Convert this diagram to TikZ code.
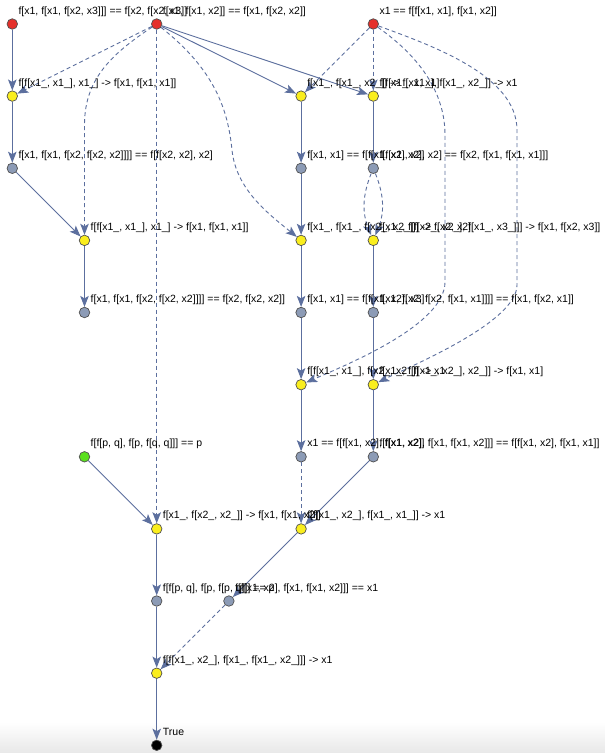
\documentclass[tikz,border=0pt]{standalone}
\usepackage{fontspec}
\setmainfont{Liberation Sans}
\usetikzlibrary{arrows.meta}
\definecolor{ecol}{HTML}{5C6F9E}
\definecolor{vline}{HTML}{505050}
\definecolor{vred}{HTML}{E5302A}
\definecolor{vyel}{HTML}{FAEE1E}
\definecolor{vgray}{HTML}{8C9BB6}
\definecolor{vgreen}{HTML}{5ADF1E}
\begin{document}
\begin{tikzpicture}[x=1pt,y=1pt,
  vtx/.style={circle,draw=vline,line width=0.7pt,inner sep=0pt,minimum size=10.5pt},
  ax/.style={vtx,fill=vred},
  lem/.style={vtx,fill=vyel},
  thm/.style={vtx,fill=vgray},
  hyp/.style={vtx,fill=vgreen},
  fin/.style={vtx,fill=black},
  lbl/.style={anchor=base west,inner sep=0pt,font=\fontsize{10.5}{12}\selectfont},
  sedge/.style={draw=ecol,line width=0.9pt,-{Stealth[length=11pt,width=8.5pt,inset=2.5pt]}},
  dedge/.style={sedge,dash pattern=on 4pt off 3pt}
]
\path[use as bounding box,fill=white] (0,0) rectangle (605,-753);
\shade[top color=white,bottom color=black!9] (0,-722) rectangle (605,-753);

% vertices
\node[ax]  (A)  at (12.3,-24) {};
\node[ax]  (B)  at (156.7,-24) {};
\node[ax]  (C)  at (373.3,-24) {};
\node[lem] (D)  at (12.3,-96.1) {};
\node[lem] (E)  at (301.1,-96.1) {};
\node[lem] (F)  at (373.3,-96.1) {};
\node[thm] (D3) at (12.3,-168.3) {};
\node[thm] (E3) at (301.1,-168.3) {};
\node[thm] (F3) at (373.3,-168.3) {};
\node[lem] (G)  at (84.5,-240.4) {};
\node[lem] (E4) at (301.1,-240.4) {};
\node[lem] (F4) at (373.3,-240.4) {};
\node[thm] (G5) at (84.5,-312.5) {};
\node[thm] (E5) at (301.1,-312.5) {};
\node[thm] (F5) at (373.3,-312.5) {};
\node[lem] (E6) at (301.1,-384.7) {};
\node[lem] (F6) at (373.3,-384.7) {};
\node[hyp] (H)  at (84.5,-456.8) {};
\node[thm] (E7) at (301.1,-456.8) {};
\node[thm] (F7) at (373.3,-456.8) {};
\node[lem] (B8) at (156.7,-528.9) {};
\node[lem] (E8) at (301.1,-528.9) {};
\node[thm] (B9) at (156.7,-601) {};
\node[thm] (D9) at (228.9,-601) {};
\node[lem] (B10) at (156.7,-673.2) {};
\node[fin] (T)  at (156.7,-745.3) {};

% edges
\draw[sedge] (A) -- (D);
\draw[dedge] (B) -- (D);
\draw[dedge] (B) .. controls (110,-55) and (84.5,-80) .. (84.5,-125) -- (G);
\draw[dedge] (B) -- (B8);
\draw[dedge] (B) .. controls (215,-70) and (228,-110) .. (232,-150) .. controls (236,-190) and (270,-215) .. (E4);
\draw[sedge] (B) -- (E);
\draw[sedge] (B) -- (F);
\draw[dedge] (C) -- (E);
\draw[dedge] (C) -- (F);
\draw[dedge] (C) .. controls (410,-50) and (445,-85) .. (445,-135) -- (445,-282) .. controls (445,-325) and (346,-365) .. (E6);
\draw[dedge] (C) .. controls (430,-45) and (517,-75) .. (517,-130) -- (517,-285) .. controls (517,-322) and (413,-365) .. (F6);
\draw[sedge] (D) -- (D3);
\draw[sedge] (D3) -- (G);
\draw[sedge] (G) -- (G5);
\draw[sedge] (E) -- (E3);
\draw[sedge] (F) -- (F3);
\draw[sedge] (E3) -- (E4);
\draw[dedge] (F3) to[bend left=22] (F4);
\draw[dedge] (F3) to[bend right=22] (F4);
\draw[sedge] (E4) -- (E5);
\draw[sedge] (F4) -- (F5);
\draw[sedge] (E5) -- (E6);
\draw[sedge] (F5) -- (F6);
\draw[sedge] (E6) -- (E7);
\draw[sedge] (F6) -- (F7);
\draw[sedge] (H) -- (B8);
\draw[dedge] (E7) -- (E8);
\draw[sedge] (F7) -- (E8);
\draw[sedge] (B8) -- (B9);
\draw[sedge] (E8) -- (D9);
\draw[sedge] (B9) -- (B10);
\draw[dedge] (D9) -- (B10);
\draw[sedge] (B10) -- (T);

% labels
\path (A) ++(6,10) node[lbl] {f[x1, f[x1, f[x2, x3]]] == f[x2, f[x2, x3]]};
\path (B) ++(6,10) node[lbl] {f[x1, f[x1, x2]] == f[x1, f[x2, x2]]};
\path (C) ++(6,10) node[lbl] {x1 == f[f[x1, x1], f[x1, x2]]};
\path (D) ++(6,10) node[lbl] {f[f[x1\_, x1\_], x1\_] -> f[x1, f[x1, x1]]};
\path (E) ++(6,10) node[lbl] {f[x1\_, f[x1\_, x2\_]] -> f[x1, x1]};
\path (F) ++(6,10) node[lbl] {f[f[x1\_, x1\_], f[x1\_, x2\_]] -> x1};
\path (D3) ++(6,10) node[lbl] {f[x1, f[x1, f[x2, f[x2, x2]]]] == f[f[x2, x2], x2]};
\path (E3) ++(6,10) node[lbl] {f[x1, x1] == f[f[x1, x2], x2]};
\path (F3) ++(6,10) node[lbl] {f[f[x1, x2], x2] == f[x2, f[x1, f[x1, x1]]]};
\path (G) ++(6,10) node[lbl] {f[f[x1\_, x1\_], x1\_] -> f[x1, f[x1, x1]]};
\path (E4) ++(6,10) node[lbl] {f[x1\_, f[x1\_, f[x2\_, x2\_]]] -> f[x2, x2]};
\path (F4) ++(6,10) node[lbl] {f[x1\_, f[f[x2\_, x2\_], f[x1\_, x3\_]]] -> f[x1, f[x2, x3]]};
\path (G5) ++(6,10) node[lbl] {f[x1, f[x1, f[x2, f[x2, x2]]]] == f[x2, f[x2, x2]]};
\path (E5) ++(6,10) node[lbl] {f[x1, x1] == f[f[x1, x2], x3]};
\path (F5) ++(6,10) node[lbl] {f[x1, f[x2, f[x2, f[x1, x1]]]] == f[x1, f[x2, x1]]};
\path (E6) ++(6,10) node[lbl] {f[f[x1\_, x1\_], f[x2\_, x2\_]] -> x1};
\path (F6) ++(6,10) node[lbl] {f[x1\_, f[f[x1\_, x2\_], x2\_]] -> f[x1, x1]};
\path (H) ++(6,10) node[lbl] {f[f[p, q], f[p, f[q, q]]] == p};
\path (E7) ++(6,10) node[lbl] {x1 == f[f[x1, x2], f[x1, x2]]};
\path (F7) ++(6,10) node[lbl] {f[f[x1, x2], f[x1, f[x1, x2]]] == f[f[x1, x2], f[x1, x1]]};
\path (B8) ++(6,10) node[lbl] {f[x1\_, f[x2\_, x2\_]] -> f[x1, f[x1, x2]]};
\path (E8) ++(6,10) node[lbl] {f[f[x1\_, x2\_], f[x1\_, x1\_]] -> x1};
\path (B9) ++(6,10) node[lbl] {f[f[p, q], f[p, f[p, q]]] == p};
\path (D9) ++(6,10) node[lbl] {f[f[x1, x2], f[x1, f[x1, x2]]] == x1};
\path (B10) ++(6,10) node[lbl] {f[f[x1\_, x2\_], f[x1\_, f[x1\_, x2\_]]] -> x1};
\path (T) ++(6,10) node[lbl] {True};
\end{tikzpicture}
\end{document}
